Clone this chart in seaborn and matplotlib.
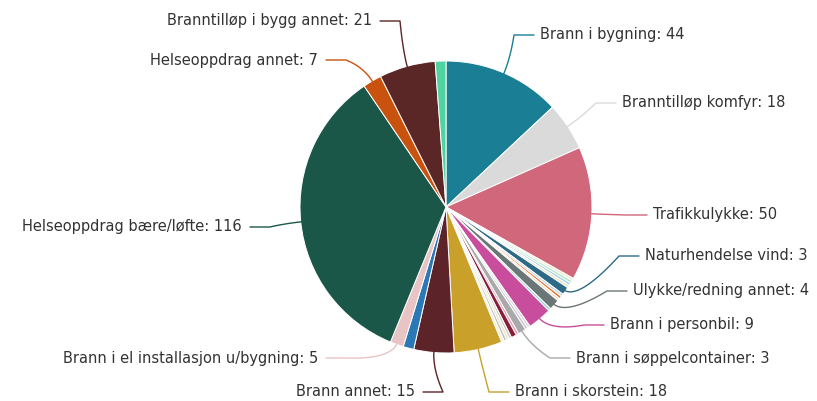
import numpy as np
import matplotlib
matplotlib.use("Agg")
import matplotlib.pyplot as plt
import seaborn as sns

# ---- data (clockwise from 12 o'clock) ----
categories = [
    "Brann i bygning", "Branntilløp komfyr", "Trafikkulykke",
    "Annet a", "Annet b", "Annet c", "Annet d",
    "Naturhendelse vind", "Annet e", "Annet f", "Annet g",
    "Ulykke/redning annet", "Annet h",
    "Brann i personbil", "Annet i", "Annet j",
    "Brann i søppelcontainer", "Annet k", "Annet l", "Annet m", "Annet n", "Annet o", "Annet p",
    "Brann i skorstein", "Brann annet", "Annet q",
    "Brann i el installasjon u/bygning", "Helseoppdrag bære/løfte",
    "Helseoppdrag annet", "Branntilløp i bygg annet", "Annet r",
]
values = [
    44, 18, 50,
    1, 1, 1, 1,
    3, 1, 1, 1,
    4, 1,
    9, 1, 1,
    3, 1, 2, 1, 1, 1, 1,
    18, 15, 4,
    5, 116,
    7, 21, 4,
]
colors = [
    "#1a7f95", "#dadada", "#d0677b",
    "#f0edd5", "#b5e3c8", "#a7d2e2", "#ece6c6",
    "#2e6a86", "#bcdde9", "#e9722a", "#efe3cc",
    "#6b7676", "#9fd6cc",
    "#c84d9c", "#d8d8d8", "#cbbfd8",
    "#a9a9a9", "#e6a1b8", "#8a1d38", "#cccccc", "#eee5c4", "#bfbfbf", "#f5f0dc",
    "#c9a02a", "#5c2328", "#2a78b6",
    "#e9c4c4", "#1b5748",
    "#c9520f", "#5a2626", "#4fd3a0",
]

# label layout: text anchor (x, y in pixels), horizontal alignment
label_pos = {
    "Brann i bygning": (540, 35, "left"),
    "Branntilløp komfyr": (622, 103, "left"),
    "Trafikkulykke": (653, 215, "left"),
    "Naturhendelse vind": (645, 256, "left"),
    "Ulykke/redning annet": (633, 291, "left"),
    "Brann i personbil": (610, 325, "left"),
    "Brann i søppelcontainer": (576, 358, "left"),
    "Brann i skorstein": (515, 392, "left"),
    "Brann annet": (415, 392, "right"),
    "Brann i el installasjon u/bygning": (318, 358, "right"),
    "Helseoppdrag bære/løfte": (242, 227, "right"),
    "Helseoppdrag annet": (318, 60, "right"),
    "Branntilløp i bygg annet": (372, 21, "right"),
}

sns.set_theme(style="white")
plt.rcParams["font.family"] = ["DejaVu Sans"]

W, H = 817, 401
fig = plt.figure(figsize=(W / 100, H / 100), dpi=100)
ax = fig.add_axes([0, 0, 1, 1])

cx, cy, R = 446, 207, 146
palette = sns.color_palette(colors)
wedges, _ = ax.pie(values, colors=palette, center=(cx, cy), radius=R,
                   startangle=-90, counterclock=True,
                   wedgeprops=dict(edgecolor="white", linewidth=0.7))
ax.set_xlim(0, W)
ax.set_ylim(H, 0)
ax.set_aspect("equal")
ax.axis("off")

total = float(sum(values))
cum = np.cumsum([0] + values)
t = np.linspace(0, 1, 40)
for i, cat in enumerate(categories):
    if cat not in label_pos:
        continue
    tx, ty, ha = label_pos[cat]
    mid = (cum[i] + cum[i + 1]) / 2 / total * 2 * np.pi  # clockwise from top
    sx, sy = np.sin(mid), -np.cos(mid)
    p0 = np.array([cx + (R - 2) * sx, cy + (R - 2) * sy])
    p1 = np.array([cx + (R + 16) * sx, cy + (R + 16) * sy])
    if ha == "left":
        a = np.array([tx - 6, ty])
        b = np.array([tx - 26, ty])
    else:
        a = np.array([tx + 8, ty])
        b = np.array([tx + 28, ty])
    # straight part then smooth curve toward the slice
    ctrl = (b + p1) / 2
    curve = ((1 - t)[:, None] ** 2) * b + 2 * ((1 - t) * t)[:, None] * p1 + (t[:, None] ** 2) * p0
    pts = np.vstack([a, curve])
    ax.plot(pts[:, 0], pts[:, 1], color=colors[i], lw=1.0,
            solid_capstyle="round", zorder=1)
    ax.text(tx, ty, f"{cat}: {values[i]}", ha=ha, va="center",
            fontsize=10.5, color="#333333")

fig.savefig("out.png", dpi=100, facecolor="white")
